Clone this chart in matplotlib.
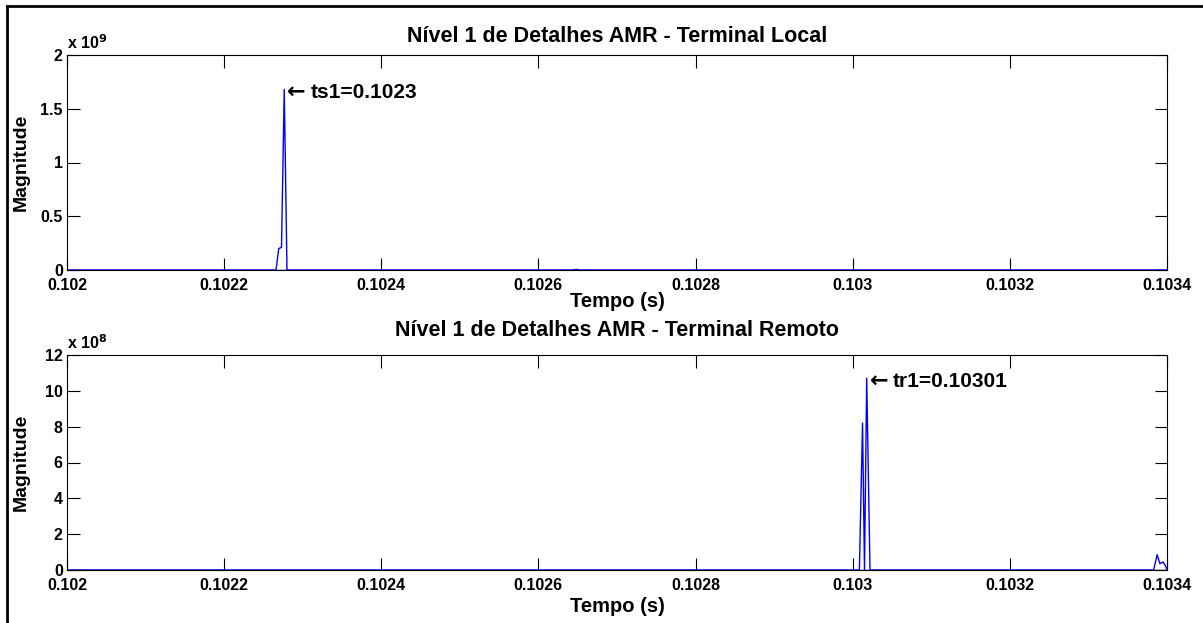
import matplotlib
matplotlib.use("Agg")
import matplotlib.pyplot as plt
from matplotlib.lines import Line2D
from matplotlib.ticker import FuncFormatter, MultipleLocator

plt.rcParams['font.family'] = ['Liberation Sans', 'DejaVu Sans']
plt.rcParams['font.weight'] = 'bold'

# ---- data ----
t_local = [0.1020, 0.1022660, 0.1022695, 0.1022730, 0.1022765, 0.1022800,
           0.1026440, 0.1026480, 0.1026520, 0.1034]
mag_local = [0.0, 0.0, 0.2e9, 0.21e9, 1.68e9, 0.0,
             0.0, 0.006e9, 0.0, 0.0]

t_remote = [0.1020, 0.1030085, 0.1030125, 0.1030150, 0.1030178, 0.1030220,
            0.1033830, 0.1033875, 0.1033910, 0.1033950, 0.1033985, 0.1034]
mag_remote = [0.0, 0.0, 8.2e8, 0.0, 10.7e8, 0.0,
              0.0, 0.85e8, 0.35e8, 0.45e8, 0.2e8, 0.0]

ref_t = [0.1020, 0.1034]
ref_v = [0.0, 0.0]

xticks = [0.102, 0.1022, 0.1024, 0.1026, 0.1028, 0.103, 0.1032, 0.1034]
xticklabels = ['0.102', '0.1022', '0.1024', '0.1026', '0.1028', '0.103', '0.1032', '0.1034']

titles = ['Nível 1 de Detalhes AMR - Terminal Local',
          'Nível 1 de Detalhes AMR - Terminal Remoto']
labels = ['ts1=0.1023', 'tr1=0.10301']
ann_t = [0.1022765, 0.1030178]
ann_v = [1.68e9, 10.7e8]
scales = [1e9, 1e8]
exps = ['9', '8']
ylims = [2e9, 12e8]
ysteps = [0.5e9, 2e8]

W, H = 1203, 623
fig = plt.figure(figsize=(W / 100, H / 100), dpi=100)

axes_px = [(67, 55, 1167, 270), (67, 355, 1167, 570)]
title_pads = [9, 14]
xlabel_pads = [-1, 3]
series = [(t_local, mag_local), (t_remote, mag_remote)]

for i, (l, t, r, b) in enumerate(axes_px):
    ax = fig.add_axes([l / W, 1 - b / H, (r - l) / W, (b - t) / H])
    ax.plot(ref_t, ref_v, color='black', lw=1.0)
    ax.plot(series[i][0], series[i][1], color='blue', lw=1.0)
    ax.set_xlim(0.102, 0.1034)
    ax.set_ylim(0, ylims[i])
    ax.set_xticks(xticks)
    ax.set_xticklabels(xticklabels)
    ax.yaxis.set_major_locator(MultipleLocator(ysteps[i]))
    s = scales[i]
    ax.yaxis.set_major_formatter(FuncFormatter(lambda v, p, s=s: ('%g' % (v / s))))
    ax.tick_params(direction='in', length=9, width=0.8, top=True, right=True,
                   labelsize=11.5)
    ax.tick_params(axis='x', pad=6)
    ax.tick_params(axis='y', pad=3)
    for lab in ax.get_xticklabels() + ax.get_yticklabels():
        lab.set_fontweight('bold')
    for sp in ax.spines.values():
        sp.set_linewidth(0.8)
    ax.set_title(titles[i], fontsize=15.5, fontweight='bold', pad=title_pads[i])
    ax.set_xlabel('Tempo (s)', fontsize=14.5, fontweight='bold', labelpad=xlabel_pads[i])
    ax.set_ylabel('Magnitude', fontsize=14, fontweight='bold', va='center')
    ax.yaxis.set_label_coords((21 - l) / (r - l), 0.5)
    ax.text(0.0, 1.015, r'x 10$^{\mathbf{%s}}$' % exps[i], transform=ax.transAxes,
            fontsize=11.5, fontweight='bold', ha='left', va='bottom')
    ax.annotate('←', xy=(ann_t[i], ann_v[i]),
                xytext=(2, -2), textcoords='offset points',
                ha='left', va='center', fontsize=16, family='DejaVu Sans')
    ax.annotate(labels[i], xy=(ann_t[i], ann_v[i]),
                xytext=(19, -2), textcoords='offset points',
                ha='left', va='center', fontsize=15, fontweight='bold')

# outer border (partially cropped)
fig.add_artist(Line2D([7 / W, 7 / W], [-0.1, 1 - 6 / H], color='black', lw=2,
                      transform=fig.transFigure))
fig.add_artist(Line2D([7 / W, 1.1], [1 - 6 / H, 1 - 6 / H], color='black', lw=2,
                      transform=fig.transFigure))

fig.savefig('out.png', dpi=100)
